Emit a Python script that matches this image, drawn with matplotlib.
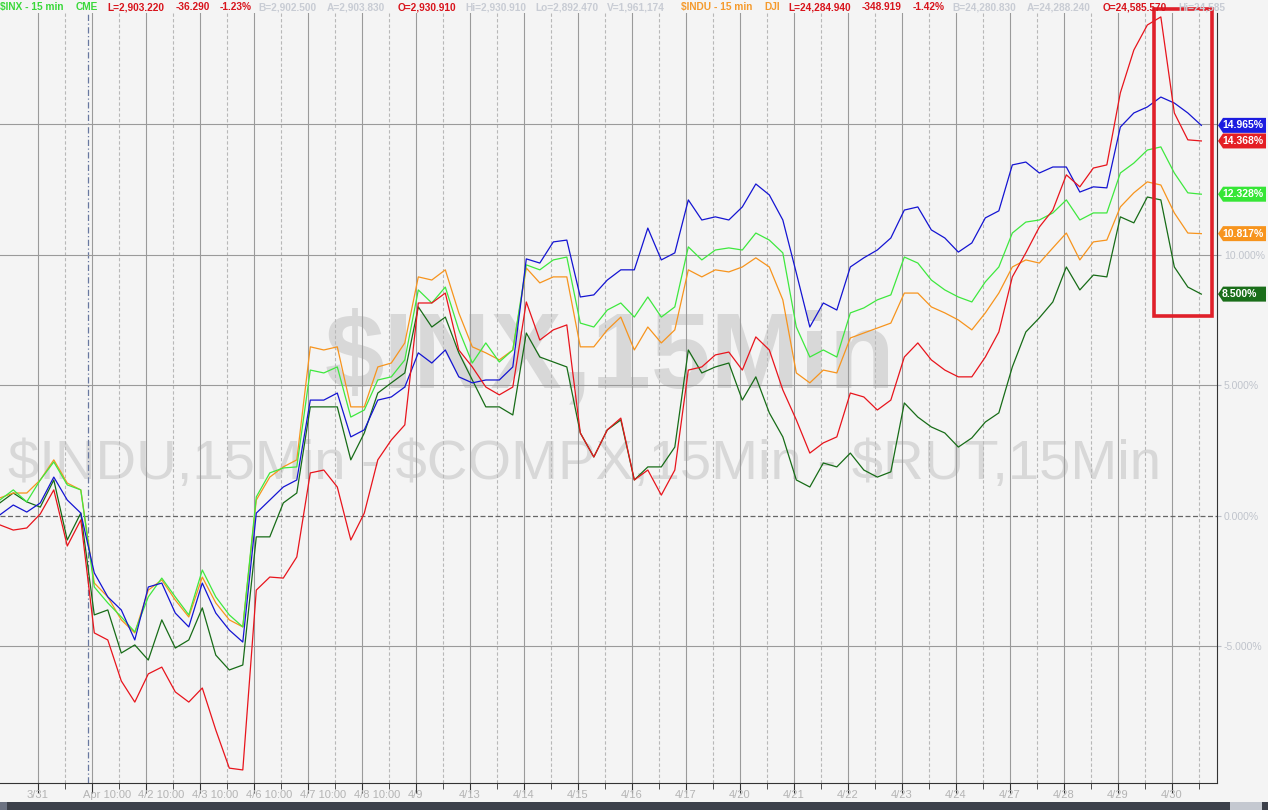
import numpy as np
import matplotlib
matplotlib.use('Agg')
import matplotlib.pyplot as plt
from matplotlib.patches import Polygon, Rectangle

# % change, 15 min chart, read every quarter session (3/30 close .. 4/30)
compx = [0.04, 0.42, 0.15, 0.50, 1.49, 0.61, 0.11, -2.18, -3.10, -3.60, -4.75, -2.72, -2.57, -3.72, -4.25,
         -2.57, -3.72, -4.37, -4.83, 0.11, 0.61, 1.11, 1.38, 4.44, 4.44, 4.71, 3.03, 3.30, 4.44, 4.56,
         4.94, 6.25, 5.86, 6.36, 5.33, 5.10, 5.21, 5.21, 5.71, 9.85, 9.69, 10.50, 10.57, 8.39, 8.47, 9.04,
         9.43, 9.43, 11.03, 9.81, 10.08, 12.11, 11.34, 11.46, 11.34, 11.84, 12.72, 12.30, 11.34, 9.31, 7.24,
         8.16, 7.89, 9.54, 9.89, 10.19, 10.65, 11.72, 11.84, 10.96, 10.65, 10.11, 10.46, 11.42, 11.69,
         13.45, 13.56, 13.14, 13.37, 13.37, 12.41, 12.61, 12.57, 14.90, 15.44, 15.67, 16.05, 15.82, 15.44,
         14.965]
rut = [-0.34, -0.54, -0.46, 0.08, 1.00, -1.15, -0.15, -4.48, -4.75, -6.32, -7.13, -6.05, -5.79, -6.74, -7.13,
       -6.59, -8.20, -9.66, -9.73, -2.84, -2.34, -2.38, -1.57, 1.65, 1.76, 1.11, -0.92, 0.11, 2.15, 2.91,
       3.49, 8.16, 8.16, 8.54, 6.36, 5.71, 4.94, 4.64, 4.94, 8.20, 6.74, 7.13, 7.32, 3.18, 2.26, 3.30,
       3.75, 1.38, 1.76, 0.80, 1.76, 5.59, 5.71, 6.17, 6.28, 5.59, 6.86, 6.36, 4.83, 3.68, 2.41,
       2.80, 3.03, 4.71, 4.56, 4.06, 4.44, 6.09, 6.63, 5.98, 5.59, 5.33, 5.33, 6.09, 7.05,
       9.16, 10.08, 11.07, 11.72, 13.07, 12.61, 13.33, 13.45, 16.21, 17.85, 18.81, 19.12, 15.44, 14.41,
       14.368]
inx = [0.61, 1.00, 0.54, 1.38, 2.07, 1.19, 1.00, -2.72, -3.33, -3.87, -4.44, -3.10, -2.38, -3.10, -3.79,
       -2.07, -3.10, -3.79, -4.25, 0.73, 1.65, 1.84, 1.88, 5.59, 5.48, 5.71, 3.79, 4.06, 5.21, 5.33,
       5.98, 8.66, 8.16, 8.77, 7.13, 5.86, 6.63, 5.90, 6.36, 9.62, 9.43, 9.81, 9.92, 7.39, 7.24, 7.89,
       8.16, 7.62, 8.39, 7.62, 8.01, 10.31, 9.81, 10.19, 10.27, 10.19, 10.84, 10.57, 10.08, 7.24, 6.09,
       6.36, 6.09, 7.78, 7.97, 8.28, 8.47, 9.92, 9.69, 9.04, 8.66, 8.39, 8.20, 8.97, 9.54,
       10.84, 11.26, 11.34, 11.61, 12.11, 11.34, 11.61, 11.61, 13.14, 13.52, 14.02, 14.14, 13.14, 12.38,
       12.328]
indu = [0.69, 0.88, 0.88, 1.38, 2.15, 1.26, 1.00, -2.57, -3.10, -3.98, -4.48, -2.84, -2.45, -3.22, -3.87,
        -2.34, -3.33, -3.98, -4.25, 0.61, 1.49, 1.88, 2.15, 6.48, 6.36, 6.48, 4.18, 4.18, 5.71, 5.86,
        6.63, 9.16, 9.04, 9.43, 7.78, 6.48, 6.25, 5.98, 6.36, 9.50, 8.93, 9.16, 9.16, 6.48, 6.48, 7.13,
        7.62, 6.36, 7.24, 6.63, 7.13, 9.43, 9.16, 9.43, 9.35, 9.54, 9.89, 9.54, 8.28, 5.48, 5.10,
        5.59, 5.48, 6.82, 7.01, 7.20, 7.39, 8.54, 8.54, 8.01, 7.78, 7.51, 7.13, 7.78, 8.54,
        9.54, 9.81, 9.69, 10.27, 10.84, 9.81, 10.50, 10.57, 11.84, 12.38, 12.80, 12.68, 11.61, 10.84,
        10.817]
other = [0.50, 0.88, 0.54, 0.34, 1.38, -0.92, 0.11, -3.79, -3.60, -5.25, -4.94, -5.52, -3.98, -5.06, -4.75,
         -3.52, -5.33, -5.90, -5.71, -0.80, -0.80, 0.50, 0.88, 4.18, 4.18, 4.18, 2.15, 3.18, 4.71, 5.10,
         5.48, 8.01, 7.24, 7.62, 6.25, 5.21, 4.18, 4.18, 3.87, 7.01, 6.09, 5.90, 5.71, 3.18, 2.26, 3.30,
         3.68, 1.38, 1.88, 1.88, 2.64, 6.36, 5.48, 5.71, 5.86, 4.44, 5.33, 3.95, 3.03, 1.38, 1.11,
         2.03, 1.88, 2.41, 1.76, 1.49, 1.69, 4.33, 3.79, 3.41, 3.18, 2.64, 2.99, 3.60, 3.95,
         5.71, 7.05, 7.59, 8.20, 9.54, 8.66, 9.23, 9.16, 11.46, 11.23, 12.22, 12.11, 9.54, 8.77,
         8.50]

days = ['3/31', 'Apr 10:00', '4/2 10:00', '4/3 10:00', '4/6 10:00', '4/7 10:00', '4/8 10:00', '4/9',
        '4/13', '4/14', '4/15', '4/16', '4/17', '4/20', '4/21', '4/22', '4/23', '4/24', '4/27',
        '4/28', '4/29', '4/30']
yticks = [10, 5, 0, -5]

W, H = 1268, 810
BG = '#f4f4f4'
FONT = 'Liberation Sans'

fig = plt.figure(figsize=(W / 100, H / 100), dpi=100, facecolor=BG)
ax = fig.add_axes([0, 27 / H, 1217 / W, 770 / H], facecolor=BG)

# x in trading days, day 0 = 3/31 open
t = -0.7 + 0.25 * np.arange(len(compx))
ax.set_xlim(-0.696, 21.84)
ax.set_ylim(-10.23, 19.27)

# watermark
ax.text(10.6, 6.0, '$INX,15Min', fontsize=77, fontweight='bold', color='#d8d8d8',
        family=FONT, ha='center', va='center', zorder=1)
ax.text(10.12, 1.95, '$INDU,15Min - $COMPX,15Min - $RUT,15Min', fontsize=40.5, color='#d8d8d8',
        family=FONT, ha='center', va='center', zorder=1)

# grid
for d in range(len(days)):
    ax.axvline(d, color='#9a9a9a', lw=0.8, zorder=2)
    ax.axvline(d + 0.5, color='#b8b8b8', lw=0.8, ls=(0, (3, 2)), zorder=2)
ax.axvline(0.935, color='#6878a0', lw=0.9, ls=(0, (5, 2, 1, 2)), zorder=2)
for v in [15, 10, 5, -5]:
    ax.axhline(v, color='#9a9a9a', lw=0.8, zorder=2)
ax.axhline(0, color='#666666', lw=0.9, ls=(0, (4, 2)), zorder=2)

ax.plot(t, other, color='#176c17', lw=0.9, zorder=3)
ax.plot(t, indu, color='#f7941d', lw=0.9, zorder=3)
ax.plot(t, inx, color='#3ee83e', lw=0.9, zorder=3)
ax.plot(t, compx, color='#1414d2', lw=0.9, zorder=4)
ax.plot(t, rut, color='#e8141c', lw=0.9, zorder=4)

# red highlight box
ax.add_patch(Rectangle((20.67, 7.66), 1.08, 11.77, fill=False, ec='#e0202a', lw=2.6,
                       clip_on=False, zorder=6))

# axes look
for s in ['top', 'left']:
    ax.spines[s].set_visible(False)
ax.spines['bottom'].set_color('#333333')
ax.spines['right'].set_color('#333333')
ax.set_xticks(range(len(days)))
ax.set_xticks(np.arange(len(days)) + 0.5, minor=True)
ax.tick_params(axis='x', which='major', length=7, color='#333333', labelbottom=False)
ax.tick_params(axis='x', which='minor', length=4, color='#333333')
ax.yaxis.tick_right()
ax.set_yticks(yticks)
ax.set_yticklabels(['%.3f%%' % v for v in yticks])
ax.tick_params(axis='y', length=3, color='#b8bcc4', labelcolor='#c0c4cc', labelsize=7.5, pad=2)
for lab in ax.get_yticklabels():
    lab.set_family(FONT)

xf = ax.get_xaxis_transform()
for d, lab in enumerate(days):
    off = 0.28 if '10:00' in lab else 0.0
    ax.text(d + off, -0.009, lab, transform=xf, ha='center', va='top', fontsize=8,
            color='#b4b4b4', family=FONT, clip_on=False)

# last value flags
flags = [(compx[-1], '#1c1ce0'), (rut[-1], '#e41e24'), (inx[-1], '#36e636'),
         (indu[-1], '#f7941d'), (other[-1], '#1a6e1a')]
for val, col in flags:
    yp = ax.transData.transform((0, val))[1]
    x0, x1 = 1218, 1266
    poly = Polygon([(x0, yp), (x0 + 5, yp + 7.5), (x1, yp + 7.5), (x1, yp - 7.5), (x0 + 5, yp - 7.5)],
                   closed=True, fc=col, ec='none', transform=None, zorder=10)
    fig.patches.append(poly)
    fig.text((x0 + 4) / W, yp / H, '%.3f%%' % val, color='white', fontsize=7.5, fontweight='bold',
             family=FONT, ha='left', va='center', zorder=11)

# header
GREEN, RED, GRAY, ORANGE = '#3ad83a', '#d8141c', '#c8ccd4', '#f59a2c'
header = [(0, '$INX - 15 min', GREEN), (76, 'CME', GREEN), (107, 'L=2,903.220', RED),
          (176, '-36.290', RED), (220, '-1.23%', RED), (258, 'B=2,902.500', GRAY),
          (327, 'A=2,903.830', GRAY), (398, 'O=2,930.910', RED), (465, 'Hi=2,930.910', GRAY),
          (535, 'Lo=2,892.470', GRAY), (607, 'V=1,961,174', GRAY), (681, '$INDU - 15 min', ORANGE),
          (764, 'DJI', ORANGE), (788, 'L=24,284.940', RED), (862, '-348.919', RED),
          (913, '-1.42%', RED), (952, 'B=24,280.830', GRAY), (1027, 'A=24,288.240', GRAY),
          (1103, 'O=24,585.570', RED), (1178, 'Hi=24,585', GRAY)]
for xp, s, c in header:
    fig.text(xp / W, 1 - 7 / H, s, color=c, fontsize=7.3, family=FONT, fontweight='bold',
             ha='left', va='center')

# bottom scroll bar
fig.patches.append(Rectangle((0, 0), W, 8, fc='#3c404a', ec='none', transform=None))
fig.patches.append(Rectangle((0, 0), 7, 8, fc='#6c7282', ec='none', transform=None))
fig.patches.append(Rectangle((1230, 0), 32, 8, fc='#c4c8d0', ec='none', transform=None))

fig.savefig('out.png', dpi=100, facecolor=BG)
